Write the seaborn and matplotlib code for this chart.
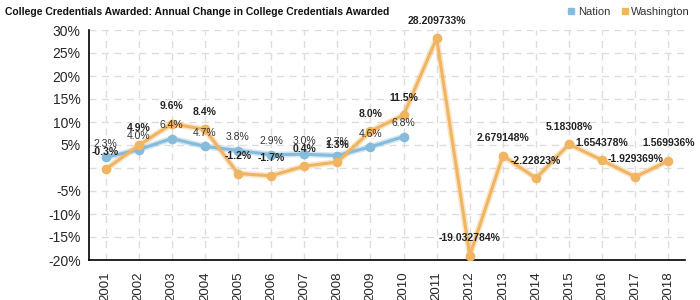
import matplotlib
matplotlib.use("Agg")
import matplotlib.pyplot as plt
import seaborn as sns
import pandas as pd
import numpy as np
from matplotlib.lines import Line2D
from matplotlib.ticker import MultipleLocator

sns.set_style("white")
plt.rcParams['font.family'] = ['Liberation Sans', 'DejaVu Sans']

years = list(range(2001, 2019))
nation = [2.3, 4.0, 6.4, 4.7, 3.8, 2.9, 3.0, 2.7, 4.6, 6.8]
washington = [-0.3, 4.9, 9.6, 8.4, -1.2, -1.7, 0.4, 1.3, 8.0, 11.5,
              28.209733, -19.032784, 2.679148, -2.22823, 5.18308,
              1.654378, -1.929369, 1.569936]
nation_labels = ["2.3%", "4.0%", "6.4%", "4.7%", "3.8%", "2.9%", "3.0%", "2.7%", "4.6%", "6.8%"]
wash_labels = ["-0.3%", "4.9%", "9.6%", "8.4%", "-1.2%", "-1.7%", "0.4%", "1.3%", "8.0%", "11.5%",
               "28.209733%", "-19.032784%", "2.679148%", "-2.22823%", "5.18308%",
               "1.654378%", "-1.929369%", "1.569936%"]
series_names = ["Nation", "Washington"]
colors = {"Nation": "#86bbdc", "Washington": "#f0b562"}

df = pd.concat([
    pd.DataFrame({"year": years[:len(nation)], "value": nation, "series": "Nation"}),
    pd.DataFrame({"year": years, "value": washington, "series": "Washington"}),
])

fig = plt.figure(figsize=(7, 3), dpi=100)
ax = fig.add_axes([89/700, 40/300, 596/700, 230/300])

for name in series_names:
    sub = df[df.series == name]
    sns.lineplot(data=sub, x="year", y="value", ax=ax, color=colors[name],
                 linewidth=4.5, alpha=0.35, legend=False, zorder=2)
    sns.lineplot(data=sub, x="year", y="value", ax=ax, color=colors[name],
                 linewidth=2.2, marker="o", markersize=7, markeredgewidth=0,
                 legend=False, zorder=3)

for x, v, lab in zip(years, nation, nation_labels):
    ax.annotate(lab, (x, v), xytext=(0, 6), textcoords="offset points",
                ha="center", va="bottom", fontsize=7.5, color="#333333", zorder=5)
for x, v, lab in zip(years, washington, wash_labels):
    ax.annotate(lab, (x, v), xytext=(0, 9), textcoords="offset points",
                ha="center", va="bottom", fontsize=7.5, fontweight="bold",
                color="#222222", zorder=6)

ax.set_xlim(2000.5, 2018.5)
ax.set_ylim(-20, 30)
ax.set_xticks(years)
ax.set_xticklabels([str(y) for y in years], rotation=90, fontsize=9.5)
yt = list(range(-20, 31, 5))
ax.set_yticks(yt)
ax.set_yticklabels(["" if t == 0 else f"{t}%" for t in yt], fontsize=10)
ax.yaxis.set_minor_locator(MultipleLocator(2.5))
ax.tick_params(axis="y", which="major", direction="inout", length=8, width=1, color="black", pad=2)
ax.tick_params(axis="y", which="minor", direction="out", length=3, width=1.2, color="#f08080")
ax.tick_params(axis="x", which="major", direction="out", length=5, width=1, color="black", pad=3)
ax.set_xlabel("")
ax.set_ylabel("")

ax.grid(True, which="major", axis="both", linestyle=(0, (5, 4)), color="#dddddd", linewidth=1)
for s in ["top", "right"]:
    ax.spines[s].set_visible(False)
for s in ["left", "bottom"]:
    ax.spines[s].set_color("black")
    ax.spines[s].set_linewidth(1.2)

fig.text(5/700, 1 - 12/300, "College Credentials Awarded: Annual Change in College Credentials Awarded",
         fontsize=7.5, fontweight="bold", ha="left", va="center", color="#111111")

handles = [Line2D([], [], marker="s", linestyle="", color=colors[n], markersize=5) for n in series_names]
fig.legend(handles, series_names, loc="upper right", bbox_to_anchor=(1.0, 1.01), ncol=2,
           frameon=False, fontsize=8, handletextpad=0.1, columnspacing=0.8, handlelength=1,
           labelcolor="#333333")

fig.savefig("out.png", dpi=100)
